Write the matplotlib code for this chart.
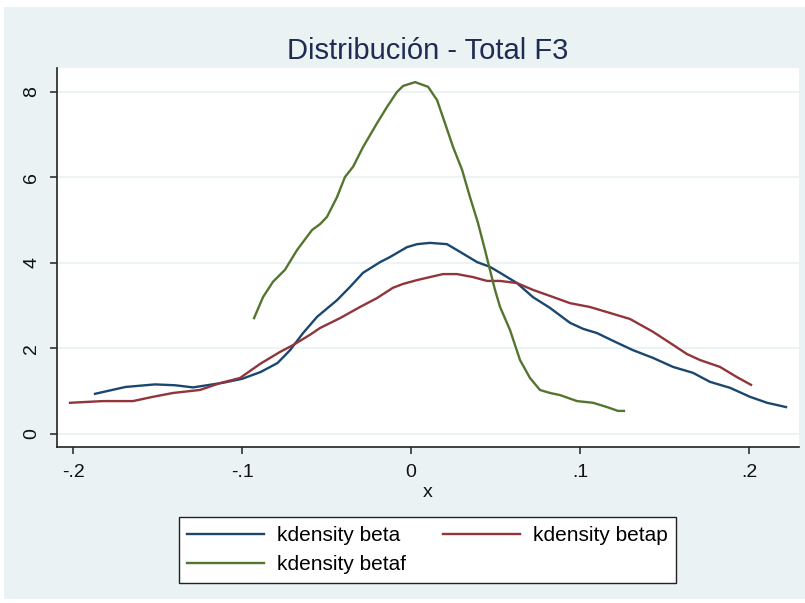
import numpy as np
import matplotlib.pyplot as plt
from matplotlib.patches import Rectangle

# kdensity curves (x, density)
beta_x = [-0.187, -0.169, -0.1515, -0.1396, -0.129, -0.111, -0.100, -0.089,
          -0.079, -0.0716, -0.0639, -0.0556, -0.0438, -0.0361, -0.0284,
          -0.0183, -0.0124, -0.0024, 0.0036, 0.0112, 0.0213, 0.029, 0.0391,
          0.0467, 0.0527, 0.0627, 0.0722, 0.0822, 0.0941, 0.1018, 0.1101,
          0.1195, 0.1314, 0.1432, 0.155, 0.1669, 0.1769, 0.1888, 0.2006,
          0.2107, 0.2219]
beta_y = [0.94, 1.10, 1.16, 1.14, 1.09, 1.20, 1.29, 1.45, 1.66, 1.96, 2.36,
          2.74, 3.13, 3.44, 3.77, 4.02, 4.14, 4.37, 4.44, 4.47, 4.44, 4.26,
          4.02, 3.91, 3.77, 3.53, 3.20, 2.95, 2.60, 2.46, 2.36, 2.18, 1.96,
          1.78, 1.57, 1.43, 1.22, 1.08, 0.87, 0.73, 0.63]

betap_x = [-0.2018, -0.1822, -0.1645, -0.1527, -0.1408, -0.1249, -0.113,
           -0.1012, -0.0893, -0.0775, -0.0698, -0.0598, -0.0538, -0.042,
           -0.0302, -0.0201, -0.0107, -0.0047, 0.0036, 0.0112, 0.0189, 0.0272,
           0.0367, 0.045, 0.0527, 0.0627, 0.0722, 0.0822, 0.0941, 0.1059,
           0.1178, 0.1296, 0.1432, 0.1533, 0.1633, 0.171, 0.1828, 0.1929,
           0.2012]
betap_y = [0.73, 0.77, 0.77, 0.87, 0.96, 1.03, 1.19, 1.31, 1.64, 1.92, 2.08,
           2.32, 2.48, 2.71, 2.97, 3.18, 3.42, 3.51, 3.60, 3.67, 3.74, 3.74,
           3.67, 3.58, 3.58, 3.53, 3.37, 3.23, 3.06, 2.97, 2.83, 2.69, 2.39,
           2.13, 1.87, 1.73, 1.57, 1.33, 1.15]

betaf_x = [-0.0929, -0.0876, -0.0817, -0.0746, -0.0675, -0.0586, -0.0538,
           -0.0497, -0.0438, -0.0391, -0.0343, -0.0284, -0.0201, -0.0142,
           -0.0083, -0.0047, 0.0024, 0.0101, 0.0154, 0.0201, 0.0249, 0.0302,
           0.0349, 0.0396, 0.0438, 0.0467, 0.0497, 0.0527, 0.0586, 0.0645,
           0.0704, 0.0763, 0.0822, 0.0882, 0.0982, 0.1077, 0.116, 0.1225,
           0.126]
betaf_y = [2.71, 3.20, 3.56, 3.84, 4.30, 4.77, 4.91, 5.08, 5.54, 6.01, 6.25,
           6.71, 7.27, 7.65, 8.00, 8.14, 8.23, 8.12, 7.81, 7.27, 6.71, 6.18,
           5.54, 4.94, 4.30, 3.84, 3.37, 2.97, 2.43, 1.73, 1.31, 1.03, 0.96,
           0.91, 0.77, 0.73, 0.63, 0.54, 0.54]

xticks = [-0.2, -0.1, 0, 0.1, 0.2]
xticklabels = ['-.2', '-.1', '0', '.1', '.2']
yticks = [0, 2, 4, 6, 8]

navy = '#1a476f'
maroon = '#90353b'
green = '#55752f'
bg = '#eaf2f3'

plt.rcParams['font.family'] = ['Liberation Sans', 'DejaVu Sans']

fig = plt.figure(figsize=(8.05, 6.03), dpi=100)
fig.patch.set_facecolor('white')
fig.patches.append(Rectangle((4/805., 4/603.), 1, 1 - 11/603., transform=fig.transFigure,
                             facecolor=bg, edgecolor='none', zorder=-10))

ax = fig.add_axes([57/805., 156/603., 742/805., 379/603.])
ax.set_facecolor('white')

l1, = ax.plot(beta_x, beta_y, color=navy, lw=1.7, solid_joinstyle='round')
l2, = ax.plot(betap_x, betap_y, color=maroon, lw=1.7, solid_joinstyle='round')
l3, = ax.plot(betaf_x, betaf_y, color=green, lw=1.7, solid_joinstyle='round')

ax.set_xlim(-0.2095, 0.2296)
ax.set_ylim(-0.304, 8.56)
ax.set_xticks(xticks)
ax.set_xticklabels(xticklabels)
ax.set_yticks(yticks)
ax.set_yticklabels([str(t) for t in yticks], rotation=90, va='center')
for t in yticks:
    ax.axhline(t, color=bg, lw=1.3, zorder=0)

for s in ['top', 'right']:
    ax.spines[s].set_visible(False)
for s in ['left', 'bottom']:
    ax.spines[s].set_color('#222222')
    ax.spines[s].set_linewidth(1.2)
ax.tick_params(axis='both', direction='out', length=5, width=1.1, color='#222222',
               labelsize=14, pad=7, labelcolor='#111111')

ax.set_xlabel('x', fontsize=14, color='#111111')
ax.xaxis.set_label_coords(0.5, -0.119)
ax.xaxis.label.set_va('center')

ax.text(0.5, (447 - 51) / 379., 'Distribución - Total F3', transform=ax.transAxes,
        ha='center', va='center', fontsize=21, color='#1e2b52')

leg = fig.legend([l1, l3, l2], ['kdensity beta', 'kdensity betaf', 'kdensity betap'],
                 ncol=2, loc='center', bbox_to_anchor=(427.5/805., 1 - 550/603.),
                 frameon=True, fancybox=False, framealpha=1, fontsize=15,
                 handlelength=3.7, handletextpad=0.62, columnspacing=1.75,
                 borderpad=0.4, labelspacing=0.5, borderaxespad=0)
leg.get_frame().set_edgecolor('#222222')
leg.get_frame().set_linewidth(1.0)
for lh in leg.get_lines():
    lh.set_linewidth(1.7)

plt.savefig('out.png', dpi=100, facecolor='white')
